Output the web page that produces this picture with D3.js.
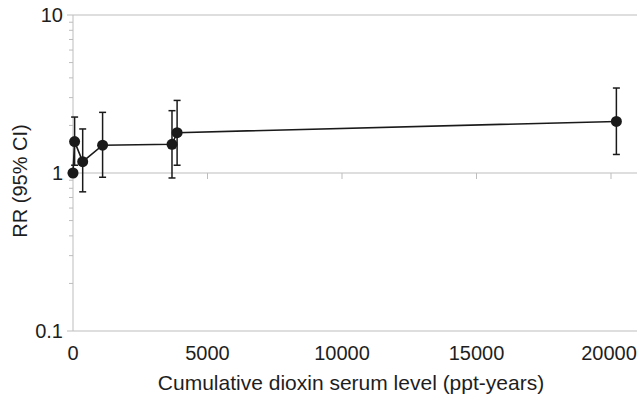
<!DOCTYPE html>
<html>
<head>
<meta charset="utf-8">
<script src="https://cdn.jsdelivr.net/npm/d3@7"></script>
<style>
  body { margin: 0; background: #fff; }
  text { font-family: "Liberation Sans", Arial, sans-serif; fill: #1e1e1e; }
</style>
</head>
<body>
<div id="chart"></div>
<script>
// DATA
const dose = [0, 60, 360, 1100, 3680, 3870, 20200];
const rr = [1.0, 1.58, 1.18, 1.50, 1.52, 1.80, 2.12];
const ciLow = [null, 1.12, 0.76, 0.94, 0.93, 1.12, 1.31];
const ciHigh = [null, 2.26, 1.90, 2.42, 2.48, 2.88, 3.45];
const xTicks = [0, 5000, 10000, 15000, 20000];
const yTicks = [0.1, 1, 10];
const xTitle = 'Cumulative dioxin serum level (ppt-years)';
const yTitle = 'RR (95% CI)';

const data = dose.map((d, i) => ({ dose: d, rr: rr[i], lo: ciLow[i], hi: ciHigh[i] }));

// SETTINGS
const width = 637, height = 395;
const margin = { top: 15, right: 0, bottom: 64, left: 73 };
const graphWidth = width - margin.left - margin.right;
const graphHeight = height - margin.top - margin.bottom;
const gridColor = '#bdbdbd';
const markColor = '#1a1a1a';

// SCALES
const x = d3.scaleLinear().domain([0, 20000]).range([0, 538]);
const y = d3.scaleLog().domain([0.1, 10]).range([graphHeight, 0]);

const svg = d3.select('#chart').append('svg')
    .attr('width', width)
    .attr('height', height);

const graph = svg.append('g')
    .attr('transform', `translate(${margin.left}, ${margin.top})`);

// horizontal lines at the decades
graph.selectAll('.grid')
    .data(yTicks)
    .enter().append('line')
    .attr('x1', 0).attr('x2', graphWidth)
    .attr('y1', d => y(d)).attr('y2', d => y(d))
    .attr('stroke', gridColor)
    .attr('stroke-width', 1);

// x axis crossing at RR = 1, ticks pointing down
graph.selectAll('.xtick')
    .data(xTicks.slice(1))
    .enter().append('line')
    .attr('x1', d => x(d)).attr('x2', d => x(d))
    .attr('y1', y(1)).attr('y2', y(1) + 6)
    .attr('stroke', gridColor);

// x tick labels at the bottom (last one kept inside the window)
graph.selectAll('.xlabel')
    .data(xTicks)
    .enter().append('text')
    .attr('x', d => Math.min(x(d), graphWidth - 28))
    .attr('y', 360 - margin.top)
    .attr('text-anchor', 'middle')
    .style('font-size', '20px')
    .text(d => d);

// y axis line
graph.append('line')
    .attr('x1', 0).attr('x2', 0)
    .attr('y1', 0).attr('y2', graphHeight)
    .attr('stroke', gridColor);

// minor ticks
const minor = [];
[0.1, 1].forEach(b => { for (let k = 2; k <= 9; k++) minor.push(b * k); });
graph.selectAll('.minor')
    .data(minor)
    .enter().append('line')
    .attr('x1', -4).attr('x2', 0)
    .attr('y1', d => y(d)).attr('y2', d => y(d))
    .attr('stroke', gridColor);

graph.selectAll('.major')
    .data(yTicks)
    .enter().append('line')
    .attr('x1', -6).attr('x2', 0)
    .attr('y1', d => y(d)).attr('y2', d => y(d))
    .attr('stroke', gridColor);

graph.selectAll('.ylabel')
    .data(yTicks)
    .enter().append('text')
    .attr('x', -10)
    .attr('y', d => y(d))
    .attr('dy', '0.36em')
    .attr('text-anchor', 'end')
    .style('font-size', '20px')
    .text(d => d);

// error bars
const bars = graph.selectAll('.err')
    .data(data.filter(d => d.lo !== null))
    .enter().append('g')
    .attr('stroke', markColor)
    .attr('stroke-width', 1.5);

bars.append('line')
    .attr('x1', d => x(d.dose)).attr('x2', d => x(d.dose))
    .attr('y1', d => y(d.lo)).attr('y2', d => y(d.hi));
bars.append('line')
    .attr('x1', d => x(d.dose) - 3.5).attr('x2', d => x(d.dose) + 3.5)
    .attr('y1', d => y(d.lo)).attr('y2', d => y(d.lo));
bars.append('line')
    .attr('x1', d => x(d.dose) - 3.5).attr('x2', d => x(d.dose) + 3.5)
    .attr('y1', d => y(d.hi)).attr('y2', d => y(d.hi));

// line
const line = d3.line()
    .x(d => x(d.dose))
    .y(d => y(d.rr));

graph.append('path')
    .datum(data)
    .attr('fill', 'none')
    .attr('stroke', markColor)
    .attr('stroke-width', 1.6)
    .attr('d', line);

graph.selectAll('circle')
    .data(data)
    .enter().append('circle')
    .attr('cx', d => x(d.dose))
    .attr('cy', d => y(d.rr))
    .attr('r', 5.5)
    .attr('fill', markColor);

// titles
svg.append('text')
    .attr('x', 351)
    .attr('y', 390)
    .attr('text-anchor', 'middle')
    .style('font-size', '21px')
    .text(xTitle);

svg.append('text')
    .attr('transform', `translate(27, 181) rotate(-90)`)
    .attr('text-anchor', 'middle')
    .style('font-size', '20px')
    .text(yTitle);
</script>
</body>
</html>
